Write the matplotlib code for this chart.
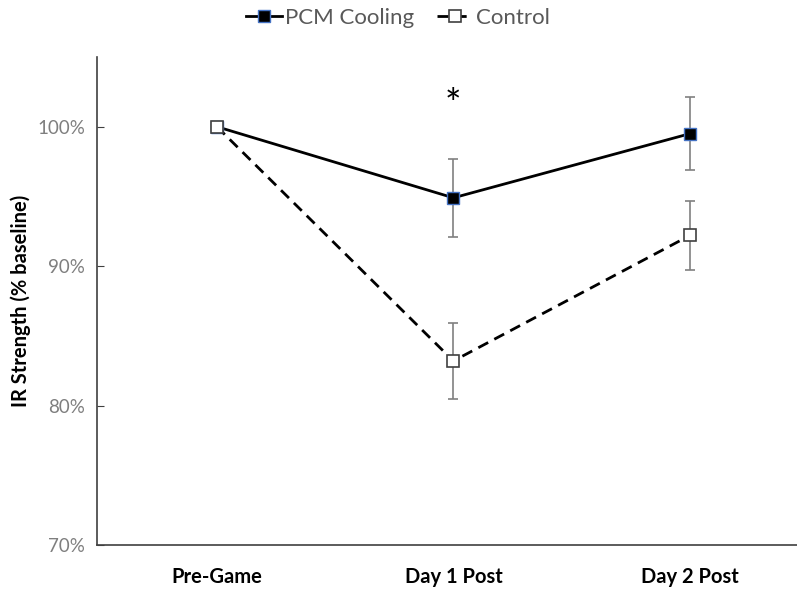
import matplotlib
matplotlib.use("Agg")
import matplotlib.pyplot as plt
from matplotlib.ticker import FuncFormatter

categories = ["Pre-Game", "Day 1 Post", "Day 2 Post"]
pcm_values = [100.0, 94.9, 99.5]
pcm_err = [0.0, 2.8, 2.6]
control_values = [100.0, 83.2, 92.2]
control_err = [0.0, 2.7, 2.5]
yticks = [70, 80, 90, 100]
sig_label = "*"
sig_index = 1
sig_y = 101.5

plt.rcParams['font.family'] = ['Lato', 'DejaVu Sans']

fig = plt.figure(figsize=(7.97, 5.90), dpi=100)
ax = fig.add_axes([97/797, 1-545/590, 1 - 97/797, (545-57)/590])

x = list(range(len(categories)))

ax.errorbar(x, pcm_values, yerr=pcm_err, fmt='none', ecolor='#808080',
            elinewidth=1.2, capsize=3.5, capthick=1.2, zorder=2)
ax.errorbar(x, control_values, yerr=control_err, fmt='none', ecolor='#808080',
            elinewidth=1.2, capsize=3.5, capthick=1.2, zorder=2)

ax.plot(x, pcm_values, '-', color='black', lw=2.0, marker='s', markersize=9,
        markerfacecolor='black', markeredgecolor='#4472C4', markeredgewidth=1.0,
        label='PCM Cooling', zorder=3)
ax.plot(x, control_values, color='black', lw=2.0, linestyle=(0, (4, 2.5)), marker='s',
        markersize=9, markerfacecolor='white', markeredgecolor='#404040',
        markeredgewidth=1.2, label='Control', zorder=4)

ax.text(sig_index, sig_y, sig_label, ha='center', va='center', fontsize=28,
        color='black')

ax.set_xlim(-0.507, 2.453)
ax.set_ylim(70, 105)
ax.set_yticks(yticks)
ax.yaxis.set_major_formatter(FuncFormatter(lambda v, p: f"{v:.0f}%"))
ax.set_xticks(x)
ax.set_xticklabels(categories, fontsize=14.5, fontweight='bold')
ax.tick_params(axis='x', length=0, pad=16)
ax.tick_params(axis='y', direction='in', length=5, labelsize=13.5, labelcolor='#7f7f7f',
               pad=8.5, color='#404040')
ax.spines['top'].set_visible(False)
ax.spines['right'].set_visible(False)
for s in ['left', 'bottom']:
    ax.spines[s].set_color('#404040')
    ax.spines[s].set_linewidth(1.2)

ax.set_ylabel("IR Strength (% baseline)", fontsize=14.5, fontweight='bold', labelpad=4.5)

handles, labels = ax.get_legend_handles_labels()
leg = fig.legend(handles, labels, loc='center', bbox_to_anchor=(398/797, 1-18/590),
                 ncol=2, frameon=False, fontsize=16, handlelength=1.6,
                 columnspacing=1.0, handletextpad=0.15)
for t in leg.get_texts():
    t.set_color('#595959')

fig.savefig("out.png", dpi=100)
